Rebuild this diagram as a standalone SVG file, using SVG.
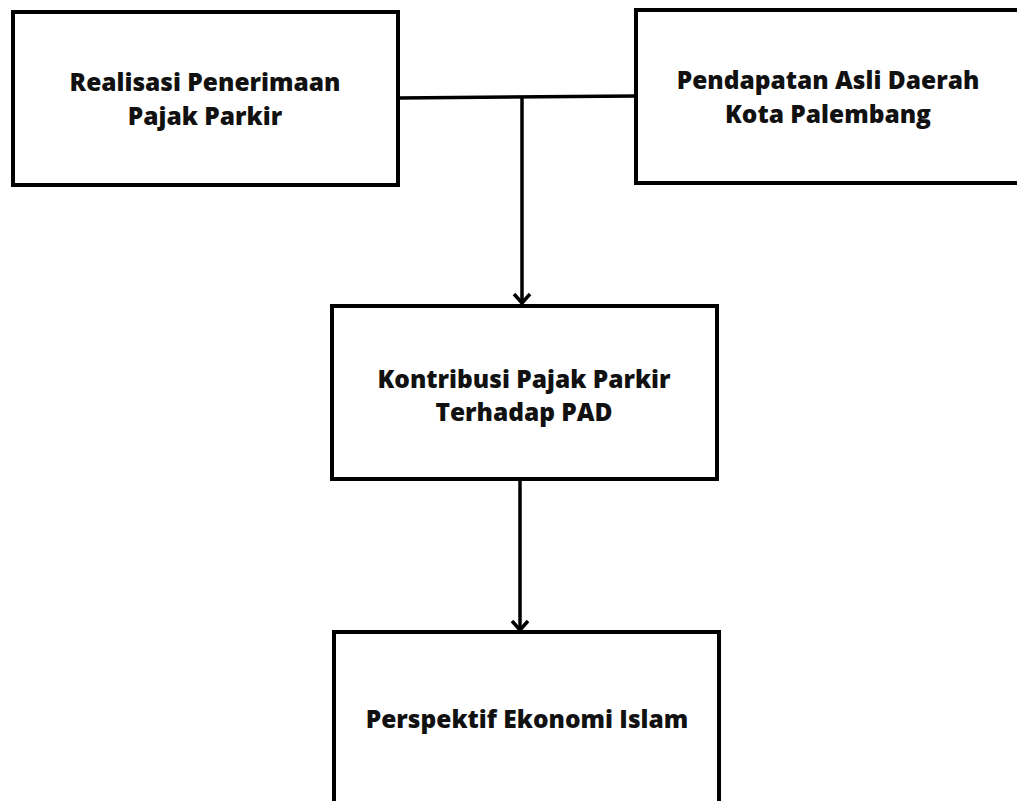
<svg xmlns="http://www.w3.org/2000/svg" width="1017" height="801" viewBox="0 0 1017 801">
<style>
.box{fill:#fff;stroke:#000;stroke-width:4}
.t{font-family:"Open Sans","Liberation Sans",sans-serif;font-weight:800;font-size:24.5px;fill:#111;text-anchor:middle}
.c{fill:none;stroke:#000;stroke-width:3.5}
</style>
<rect width="1017" height="801" fill="#fff"/>
<g id="connectors">
<path class="c" d="M398 98 L636 96"/>
<path class="c" d="M522 97 L522 303"/>
<path class="c" d="M514 294 L522 303 L530 294"/>
<path class="c" d="M520 481 L520 630"/>
<path class="c" d="M512 621 L520 630 L528 621"/>
</g>
<g id="node1">
<rect class="box" x="13" y="12" width="385" height="173"/>
<text class="t" x="205" y="91">Realisasi Penerimaan</text>
<text class="t" x="205" y="125">Pajak Parkir</text>
</g>
<g id="node2">
<rect class="box" x="636" y="10" width="390" height="173"/>
<text class="t" x="828" y="89">Pendapatan Asli Daerah</text>
<text class="t" x="828" y="123">Kota Palembang</text>
</g>
<g id="node3">
<rect class="box" x="332" y="306" width="385" height="173"/>
<text class="t" x="524" y="388">Kontribusi Pajak Parkir</text>
<text class="t" x="524" y="421">Terhadap PAD</text>
</g>
<g id="node4">
<rect class="box" x="334" y="632" width="385" height="200"/>
<text class="t" x="527" y="728">Perspektif Ekonomi Islam</text>
</g>
</svg>
